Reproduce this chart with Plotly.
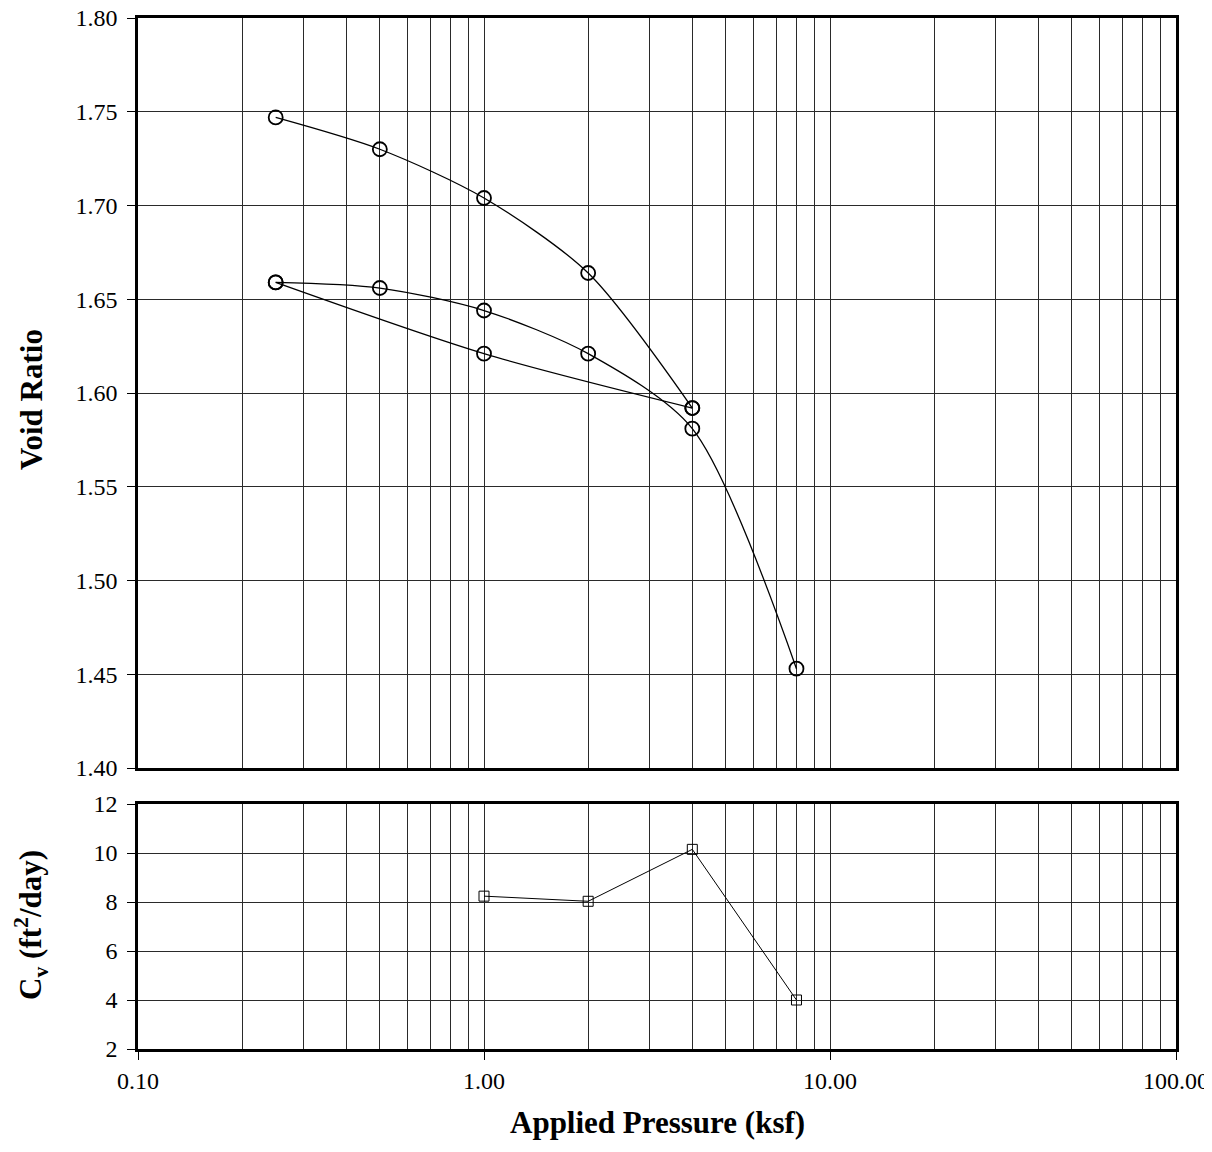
import plotly.graph_objects as go
from plotly.subplots import make_subplots

# Consolidation data: loading, unloading, reloading
load_p = [0.25, 0.5, 1, 2, 4]
load_e = [1.747, 1.730, 1.704, 1.664, 1.592]
unload_p = [4, 1, 0.25]
unload_e = [1.592, 1.621, 1.659]
reload_p = [0.25, 0.5, 1, 2, 4, 8]
reload_e = [1.659, 1.656, 1.644, 1.621, 1.581, 1.453]

cv_pressure = [1, 2, 4, 8]
cv_values = [8.24, 8.03, 10.15, 4.0]

x_tickvals = [0.1, 1, 10, 100]
x_ticktext = ["0.10", "1.00", "10.00", "100.00"]
void_ticks = [1.40, 1.45, 1.50, 1.55, 1.60, 1.65, 1.70, 1.75, 1.80]
cv_ticks = [2, 4, 6, 8, 10, 12]

FONT = "Liberation Serif, Times New Roman, serif"
GRID = "#2a2a2a"
TICKSIZE = 24

fig = make_subplots(rows=2, cols=1, shared_xaxes=False, vertical_spacing=0.0)

circle_marker = dict(symbol="circle-open", size=14, color="black", line=dict(width=1.8, color="black"))
for px_, ey_ in [(load_p, load_e), (unload_p, unload_e), (reload_p, reload_e)]:
    fig.add_trace(go.Scatter(
        x=px_, y=ey_, mode="lines+markers",
        line=dict(color="black", width=1.3, shape="spline", smoothing=0.8),
        marker=circle_marker, showlegend=False), row=1, col=1)

fig.add_trace(go.Scatter(
    x=cv_pressure, y=cv_values, mode="lines+markers",
    line=dict(color="black", width=1),
    marker=dict(symbol="square-open", size=10, color="black", line=dict(width=1, color="black")),
    showlegend=False), row=2, col=1)

xcommon = dict(type="log", range=[-1, 2], showgrid=True, gridcolor=GRID, gridwidth=1,
               minor=dict(dtick="D1", showgrid=True, gridcolor=GRID, gridwidth=1, ticks=""),
               showline=True, linecolor="black", linewidth=2.5, mirror=True,
               tickvals=x_tickvals, ticktext=x_ticktext, zeroline=False, automargin=False,
               ticklabeloverflow="allow")

ycommon = dict(showgrid=True, gridcolor=GRID, gridwidth=1,
               showline=True, linecolor="black", linewidth=2.5, mirror=True,
               ticks="outside", ticklen=8, tickcolor="black", ticklabelstandoff=5,
               zeroline=False, automargin=False, ticklabeloverflow="allow",
               tickfont=dict(family=FONT, size=TICKSIZE))

fig.update_layout(
    width=1204, height=1136, autosize=False,
    margin=dict(l=130, r=36, t=10, b=95, autoexpand=False),
    paper_bgcolor="white", plot_bgcolor="white",
    font=dict(family=FONT, size=TICKSIZE, color="black"),
    xaxis=dict(**xcommon, showticklabels=False, ticks="", domain=[0, 1], anchor="y"),
    xaxis2=dict(**xcommon, showticklabels=True, ticks="outside", ticklen=8, tickcolor="black",
                domain=[0, 1], anchor="y2", tickfont=dict(family=FONT, size=TICKSIZE)),
    yaxis=dict(**ycommon, domain=[0.2725, 1.0], range=[1.40, 1.80], tickvals=void_ticks,
               tickformat=".2f"),
    yaxis2=dict(**ycommon, domain=[0.0, 0.2376], range=[2, 12], tickvals=cv_ticks),
)

fig.add_annotation(text="<b>Void Ratio</b>", xref="paper", yref="paper",
                   x=-0.1025, y=0.63, textangle=-90, showarrow=False,
                   xanchor="center", yanchor="middle",
                   font=dict(family=FONT, size=31, color="black"))
fig.add_annotation(text="<b>C<sub>v</sub> (ft<sup>2</sup>/day)</b>", xref="paper", yref="paper",
                   x=-0.1025, y=0.12, textangle=-90, showarrow=False,
                   xanchor="center", yanchor="middle",
                   font=dict(family=FONT, size=31, color="black"))
fig.add_annotation(text="<b>Applied Pressure (ksf)</b>", xref="paper", yref="paper",
                   x=0.5, y=-0.071, showarrow=False,
                   xanchor="center", yanchor="middle",
                   font=dict(family=FONT, size=31, color="black"))

fig.write_html("out.html")
